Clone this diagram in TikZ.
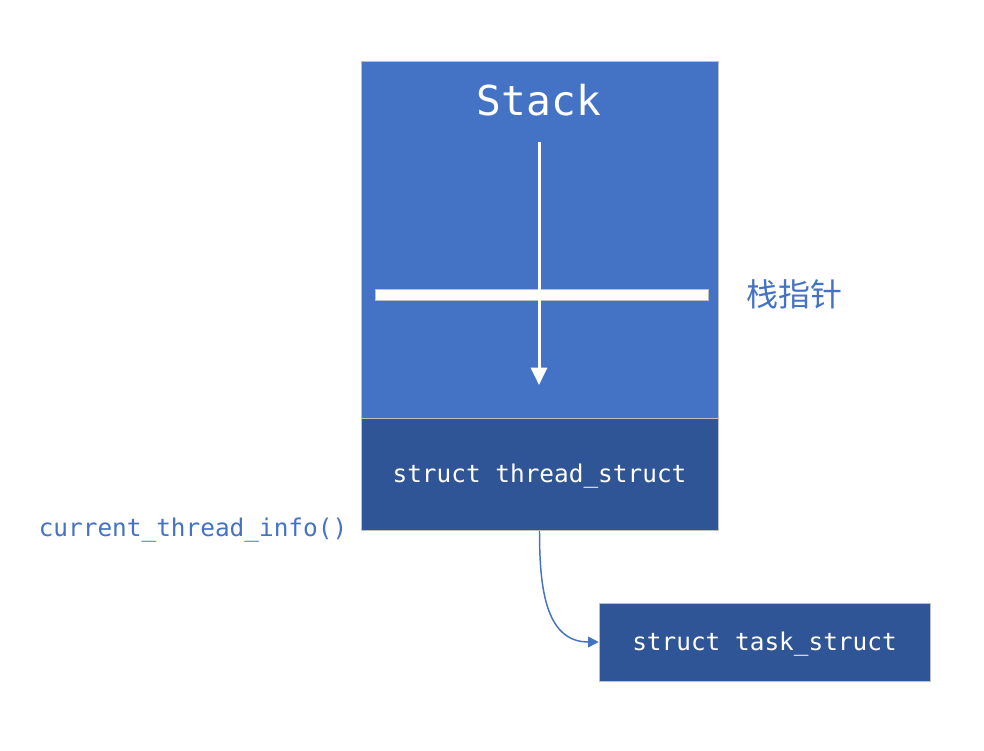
\documentclass[tikz,border=0pt]{standalone}
\usepackage{fontspec}
\usepackage{tikz}
\usetikzlibrary{positioning, arrows.meta}
\newfontfamily\codefont{DejaVu Sans Mono}
\newfontfamily\cjkfont{Noto Sans CJK SC}
\definecolor{stackblue}{HTML}{4472C4}
\definecolor{darkblue}{HTML}{2F5597}
\definecolor{edgegray}{HTML}{BFBFBF}

\begin{document}
\begin{tikzpicture}[
        x=0.75pt, y=-0.75pt,
        region/.style = {draw=edgegray, fill=stackblue, minimum width=267.75pt, inner sep=0pt},
        block/.style  = {draw=edgegray, fill=darkblue, text=white, inner sep=0pt, font=\codefont\fontsize{18.3}{22}\selectfont},
        bar/.style    = {draw=edgegray, fill=white, minimum width=249.75pt, minimum height=8.25pt, inner sep=0pt},
        pusharrow/.style = {-{Triangle[width=12pt, length=13pt]}, white, line width=2.25pt},
        arrow/.style  = {-{Triangle[width=8pt, length=8pt]}, stackblue, line width=1.1pt},
    ]
        \useasboundingbox (0,0) rectangle (984,750);
        % Stack area
        \node[region, minimum height=267.75pt] (stack) at (539.5,239.5) {};
        \node[text=white, font=\codefont\fontsize{30.9}{36}\selectfont] (title) at (539,100) {Stack};
        % thread_struct at the bottom of the stack
        \node[block, below=0pt of stack, minimum width=267.75pt, minimum height=84pt, text depth=1.5pt] (thread) {struct thread\_struct};
        % Stack pointer
        \node[bar] (sp) at (541.5,294.5) {};
        \node[text=stackblue, font=\cjkfont\fontsize{24}{28}\selectfont] (splabel) at (794,294) {栈指针};
        \coordinate (top) at (539,142);
        \coordinate (bottom) at (539,385);
        \draw[pusharrow] (top) -- (bottom);
        % task_struct
        \node[block, minimum width=248.25pt, minimum height=58.5pt, text depth=1.5pt] (task) at (764.5,642) {struct task\_struct};
        \node[text=stackblue, font=\codefont\fontsize{18.3}{22}\selectfont] (info) at (193,530) {current\_thread\_info()};

        % Arrows
        \draw[arrow] (thread.south) to[out=-90, in=180, looseness=1.1] (task.west);
    \end{tikzpicture}
\end{document}
